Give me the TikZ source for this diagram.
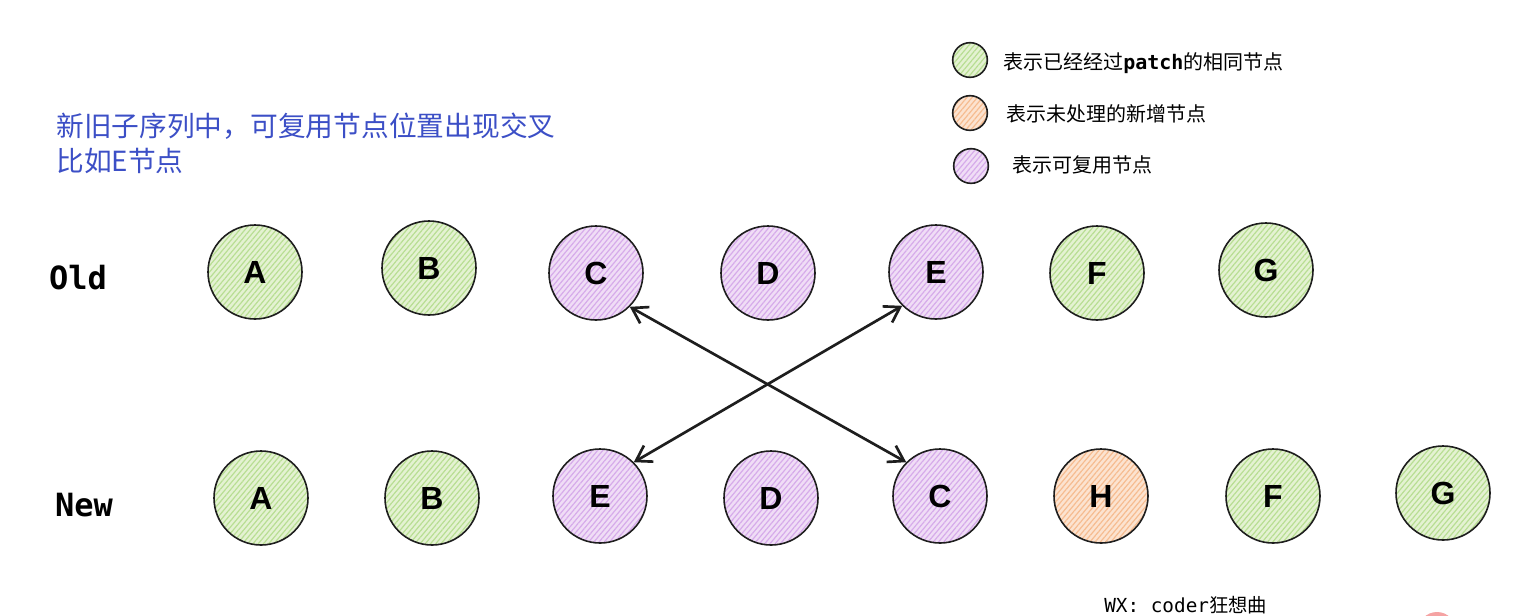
\documentclass[tikz,border=0pt]{standalone}
\usepackage{fontspec}
\setmainfont{Noto Sans}
\newfontfamily\cjk{Noto Sans CJK SC}
\newfontfamily\mono{DejaVu Sans Mono}
\newfontfamily\letterfont{Liberation Sans}
\usetikzlibrary{patterns.meta,arrows.meta}
\definecolor{gfill}{HTML}{E4F2D2}
\definecolor{gline}{HTML}{B8DE93}
\definecolor{pfill}{HTML}{F0DDF6}
\definecolor{pline}{HTML}{D6ABEA}
\definecolor{ofill}{HTML}{FCE3D0}
\definecolor{oline}{HTML}{F6BC90}
\definecolor{titleblue}{HTML}{3C4FC6}
\definecolor{ink}{HTML}{1E1E1E}
\definecolor{pinkmark}{HTML}{F5A3A3}
\tikzset{
  nd/.style={circle, minimum size=70.5pt, inner sep=0pt, draw=ink, line width=1.2pt,
    font=\letterfont\bfseries\fontsize{24}{28}\selectfont},
  lg/.style={circle, minimum size=26pt, inner sep=0pt, draw=ink, line width=1.2pt},
  green/.style={preaction={fill=gfill}, pattern={Lines[angle=50,distance=3pt,line width=0.9pt]}, pattern color=gline},
  purple/.style={preaction={fill=pfill}, pattern={Lines[angle=50,distance=3pt,line width=0.9pt]}, pattern color=pline},
  orange/.style={preaction={fill=ofill}, pattern={Lines[angle=50,distance=3pt,line width=0.9pt]}, pattern color=oline},
  rowlabel/.style={font=\mono\bfseries\fontsize{24}{28}\selectfont},
  legtext/.style={anchor=west, font=\cjk\fontsize{15}{18}\selectfont, inner sep=0pt},
  swap/.style={{Straight Barb[length=11pt,width=14pt]}-{Straight Barb[length=11pt,width=14pt]}, draw=ink, line width=2pt}
}
\begin{document}
\begin{tikzpicture}[x=0.75pt,y=-0.75pt]
\useasboundingbox (0,0) rectangle (1516,615);
% title
\node[anchor=west, inner sep=0pt, text=titleblue, font=\cjk\fontsize{20.8}{25}\selectfont] (t1) at (56,126) {新旧子序列中，可复用节点位置出现交叉};
\node[anchor=west, inner sep=0pt, text=titleblue, font=\cjk\fontsize{20.8}{25}\selectfont] (t2) at (56,161) {比如E节点};
% legend
\node[lg, green] (l1) at (970,60) {};
\node[lg, orange] (l2) at (970,113) {};
\node[lg, purple] (l3) at (971,166) {};
\node[legtext] (lt1) at (1003,63) {表示已经经过{\mono\bfseries patch}的相同节点};
\node[legtext] (lt2) at (1006,114) {表示未处理的新增节点};
\node[legtext] (lt3) at (1012,165) {表示可复用节点};
% row labels
\node[rowlabel] (old) at (78,278) {Old};
\node[rowlabel] (new) at (84,505) {New};
% old row
\node[nd, green] (oA) at (255,272) {A};
\node[nd, green] (oB) at (429,268) {B};
\node[nd, purple] (oC) at (596,273) {C};
\node[nd, purple] (oD) at (768,273) {D};
\node[nd, purple] (oE) at (936,272) {E};
\node[nd, green] (oF) at (1097,273) {F};
\node[nd, green] (oG) at (1266,270) {G};
% new row
\node[nd, green] (nA) at (261,498) {A};
\node[nd, green] (nB) at (432,498) {B};
\node[nd, purple] (nE) at (600,496) {E};
\node[nd, purple] (nD) at (771,498) {D};
\node[nd, purple] (nC) at (940,496) {C};
\node[nd, orange] (nH) at (1101,496) {H};
\node[nd, green] (nF) at (1273,496) {F};
\node[nd, green] (nG) at (1443,493) {G};
% crossing arrows
\draw[swap] (oC.-45) -- (nC.135);
\draw[swap] (nE.45) -- (oE.-135);
% footer
\node[anchor=west, inner sep=0pt, font=\mono\fontsize{14.5}{17}\selectfont] (wx) at (1104,605) {WX: coder{\cjk 狂想曲}};
% stray pink mark at the lower edge
\begin{scope}
\clip (1400,595) rectangle (1480,615);
\fill[pinkmark] (1437,631) circle[radius=19];
\end{scope}
\end{tikzpicture}
\end{document}
